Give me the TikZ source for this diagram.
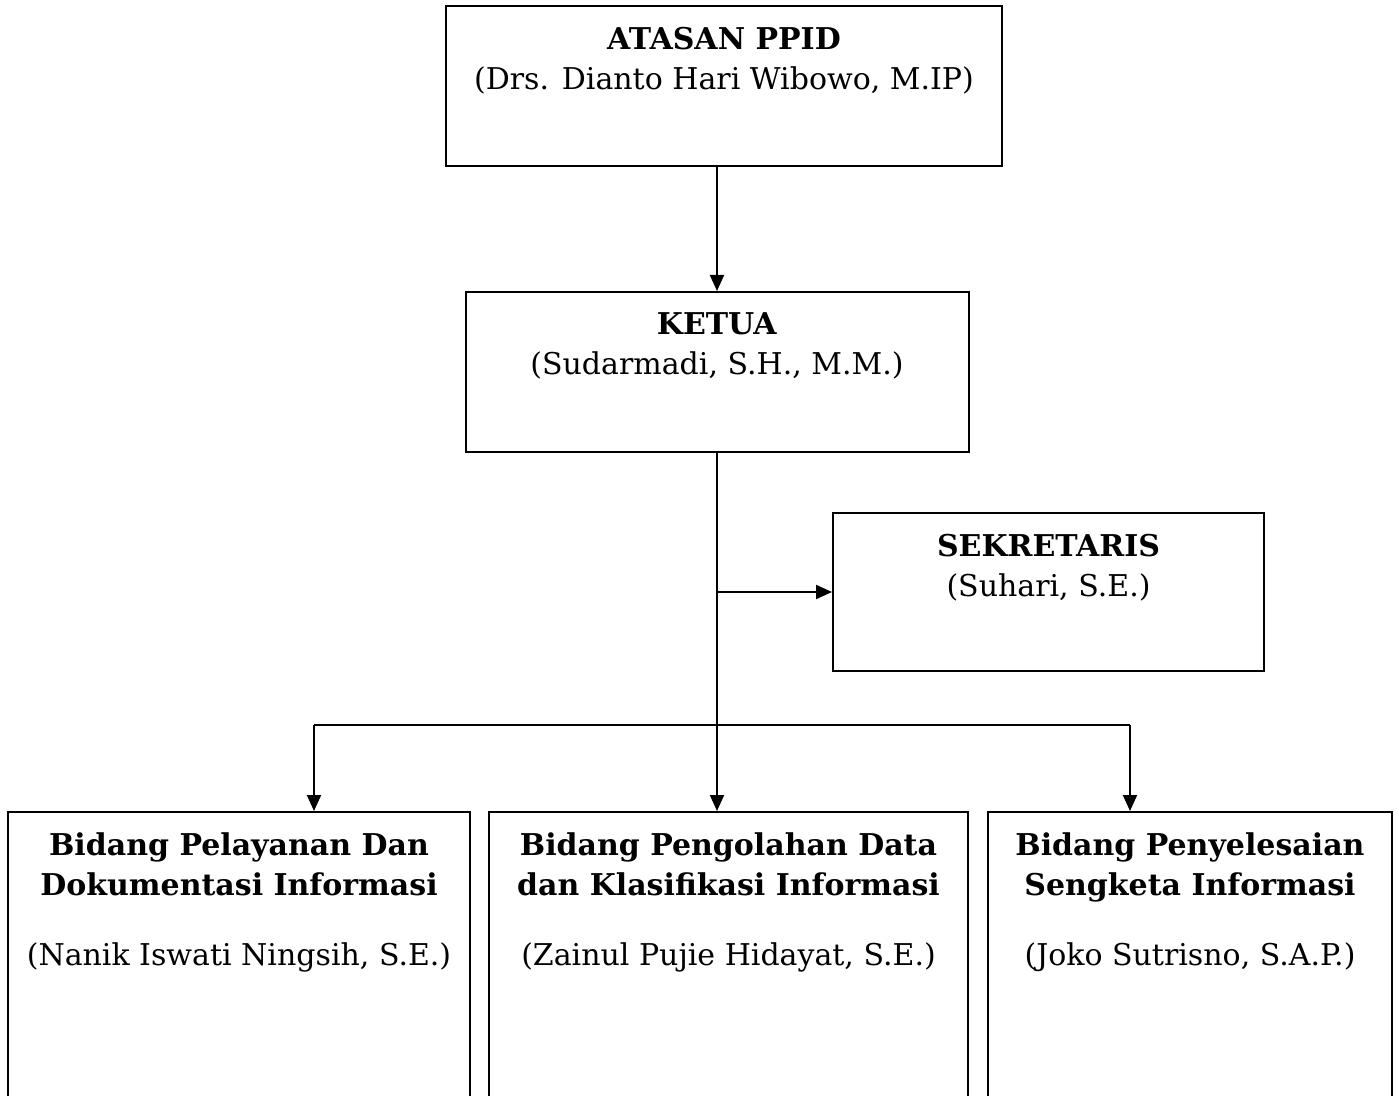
\documentclass[tikz,border=0pt]{standalone}
\usepackage{fontspec}
\setmainfont{DejaVu Serif}
\usetikzlibrary{arrows.meta}

\begin{document}
\begin{tikzpicture}[x=0.5pt,y=-0.5pt,line width=1pt,
  kotak/.style={draw, rectangle, inner sep=0pt},
  teks/.style={anchor=north, align=center, inner sep=0pt, yshift=-10.5pt},
  panah/.style={-{Triangle[length=8pt,width=7pt]}}]
\fontsize{15}{20}\selectfont
\useasboundingbox (0,0) rectangle (1399,1096);
% kotak-kotak
\node[kotak, minimum width=278pt, minimum height=80pt] (1) at (724,86) {};
\node[kotak, minimum width=251.5pt, minimum height=80pt] (2) at (717,372) {};
\node[kotak, minimum width=215.5pt, minimum height=79pt] (3) at (1048.5,592) {};
\node[kotak, minimum width=231pt, minimum height=154pt] (4) at (239,966) {};
\node[kotak, minimum width=239.5pt, minimum height=154pt] (5) at (728.5,966) {};
\node[kotak, minimum width=202pt, minimum height=154pt] (6) at (1190,966) {};
% isi
\node[teks] (t1) at (1.north) {\textbf{ATASAN PPID}\\(Drs. Dianto Hari Wibowo, M.IP)};
\node[teks] (t2) at (2.north) {\textbf{KETUA}\\(Sudarmadi, S.H., M.M.)};
\node[teks] (t3) at (3.north) {\textbf{SEKRETARIS}\\(Suhari, S.E.)};
\node[teks] (t4) at (4.north) {\textbf{Bidang Pelayanan Dan}\\\textbf{Dokumentasi Informasi}\\[15pt](Nanik Iswati Ningsih, S.E.)};
\node[teks] (t5) at (5.north) {\textbf{Bidang Pengolahan Data}\\\textbf{dan Klasifikasi Informasi}\\[15pt](Zainul Pujie Hidayat, S.E.)};
\node[teks] (t6) at (6.north) {\textbf{Bidang Penyelesaian}\\\textbf{Sengketa Informasi}\\[15pt](Joko Sutrisno, S.A.P.)};
% garis
\coordinate (c) at (717,725);
\coordinate (ki) at (314,725);
\coordinate (ka) at (1130,725);
\path[draw,panah] (1.south -| 2.north) -- (2.north);
\path[draw] (2.south) -- (c);
\path[draw,panah] (2.south |- 3.west) -- (3.west);
\path[draw] (ki) -- (ka);
\path[draw,panah] (ki) -- (ki |- 4.north);
\path[draw,panah] (c) -- (c |- 5.north);
\path[draw,panah] (ka) -- (ka |- 6.north);
\end{tikzpicture}
\end{document}
